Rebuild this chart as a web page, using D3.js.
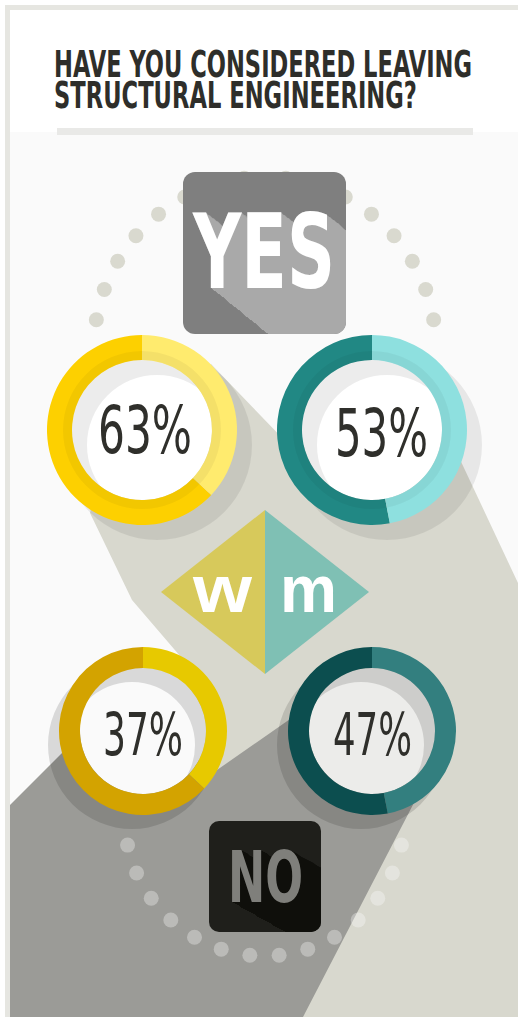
<!DOCTYPE html>
<html><head><meta charset="utf-8">
<script src="https://cdn.jsdelivr.net/npm/d3@7"></script>
<style>html,body{margin:0;padding:0;background:#fff;} svg{display:block;}</style>
</head><body>
<svg id="c" width="518" height="1017"></svg>
<script>
// ---- data ----
const titleLines = ["HAVE YOU CONSIDERED LEAVING", "STRUCTURAL ENGINEERING?"];
const answerLabels = ["YES", "NO"];
const genderLabels = ["w", "m"];
const yesPercent = [63, 53];   // women, men
const noPercent = [37, 47];    // women, men
const topDotAngles = [-80.5, -70, -59.5, -49, -38.5, -28, -17.5, -7, 7, 17.5, 28, 38.5, 49, 59.5, 70, 80.5];
const bottomDotAngles = [-78, -66, -54, -42, -30, -18, -6, 6, 18, 30, 42, 54, 66, 78];

const svg = d3.select("#c");
const defs = svg.append("defs");
const W = 518, H = 1017;
const condensed = "'Liberation Sans Narrow','DejaVu Sans Condensed','Liberation Sans',sans-serif";

// place a text with its left edge at x and baseline at y, squeezed to width w
function fitText(parent, str, x, y, w, attrs) {
  const t = parent.append("text").attr("x", 0).attr("y", 0).text(str);
  Object.entries(attrs).forEach(([k, v]) => t.attr(k, v));
  const len = t.node().getComputedTextLength();
  t.attr("transform", `translate(${x},${y}) scale(${w / len},1)`);
  return t;
}

// ---- frame ----
svg.append("rect").attr("x", 0).attr("y", 0).attr("width", W).attr("height", H).attr("fill", "#fff");
svg.append("rect").attr("x", 5).attr("y", 5).attr("width", W).attr("height", H).attr("fill", "#e6e6e1");
svg.append("rect").attr("x", 10).attr("y", 10).attr("width", W).attr("height", H).attr("fill", "#ffffff");
svg.append("rect").attr("x", 10).attr("y", 132).attr("width", W).attr("height", H).attr("fill", "#fafafa");
svg.append("rect").attr("x", 57).attr("y", 128).attr("width", 416).attr("height", 7).attr("fill", "#e9e9e7");

// ---- title (one text, two lines) ----
const titleWidths = [418, 363];
const title = svg.append("text")
  .attr("font-family", condensed).attr("font-weight", "bold").attr("font-size", 37).attr("fill", "#2e2e2a");
const spans = title.selectAll("tspan").data(titleLines).join("tspan")
  .attr("x", 0).attr("y", (d, i) => i * 31).text(d => d);
const l0 = spans.nodes()[0].getComputedTextLength();
const l1 = spans.nodes()[1].getComputedTextLength();
const ts = titleWidths[0] / l0;
const extra = (titleWidths[1] / ts - l1) / (titleLines[1].length - 1);
spans.filter((d, i) => i === 1).attr("letter-spacing", extra);
title.attr("transform", `translate(54,77) scale(${ts},1)`);

// ---- long shadows (background shapes) ----
const line = d3.line();
const beige = [[142,430],[211,364],[290,446],[449,436],[518,583],[518,1017],[200,1017],[143,760],[198,677],[132,600],[90,513],[105,445]];
svg.append("path").attr("d", line(beige) + "Z").attr("fill", "#d8d8ce");
const grayPoly = [[10,805],[100,715],[143,731],[217,770],[293,717],[372,731],[417,797],[303,1017],[10,1017]];
svg.append("path").attr("d", line(grayPoly) + "Z").attr("fill", "#9b9b97");

// ---- dotted arcs ----
const rad = d => d * Math.PI / 180;
svg.selectAll("circle.tdot").data(topDotAngles).join("circle")
  .attr("class", "tdot")
  .attr("cx", a => 265 + 171 * Math.sin(rad(a)))
  .attr("cy", a => 348 - 171 * Math.cos(rad(a)))
  .attr("r", 7.5).attr("fill", "#d9d9cf");
svg.selectAll("circle.bdot").data(bottomDotAngles).join("circle")
  .attr("class", "bdot")
  .attr("cx", a => 264.5 + 140 * Math.sin(rad(a)))
  .attr("cy", a => 816 + 140 * Math.cos(rad(a)))
  .attr("r", 7.5).attr("fill", "#ffffff").attr("opacity", 0.32);

// ---- donut rings ----
const angle = d3.scaleLinear().domain([0, 100]).range([0, 2 * Math.PI]);
const rings = [
  {v: yesPercent[0], cx: 142, cy: 430, ro: 95, ri: 70, dir: -1, main: "#fdd000", rest: "#ffeb6e", inner: "#ffffff", sx: 15, sy: 15, so: 0.075, band: true, tx: 98, ty: 453, tw: 94, fs: 66},
  {v: yesPercent[1], cx: 372, cy: 430, ro: 95, ri: 70, dir: -1, main: "#218884", rest: "#8ee0df", inner: "#ffffff", sx: 15, sy: 15, so: 0.075, band: true, tx: 335, ty: 456, tw: 93, fs: 66},
  {v: noPercent[0], cx: 143, cy: 731, ro: 84, ri: 63, dir: 1, main: "#e7c900", rest: "#d3a300", inner: "#fafafa", sx: -11, sy: 14, so: 0.13, band: false, tx: 103, ty: 755, tw: 80, fs: 59},
  {v: noPercent[1], cx: 372, cy: 731, ro: 84, ri: 63, dir: 1, main: "#337f7f", rest: "#0c4e4f", inner: "#ececea", sx: -11, sy: 14, so: 0.13, band: false, tx: 333, ty: 755, tw: 79, fs: 59}
];
const arc = d3.arc();
rings.forEach(r => {
  const g = svg.append("g");
  g.append("circle").attr("cx", r.cx).attr("cy", r.cy).attr("r", r.ri).attr("fill", r.inner);
  g.append("path").attr("transform", `translate(${r.cx + r.sx},${r.cy + r.sy})`)
    .attr("d", arc({innerRadius: r.ri, outerRadius: r.ro, startAngle: 0, endAngle: 2 * Math.PI}))
    .attr("fill", "#000").attr("opacity", r.so);
  const a = angle(r.v);
  const segs = r.dir < 0
    ? [{s: -a, e: 0, c: r.main}, {s: 0, e: 2 * Math.PI - a, c: r.rest}]
    : [{s: 0, e: a, c: r.main}, {s: a, e: 2 * Math.PI, c: r.rest}];
  g.selectAll("path.seg").data(segs).join("path").attr("class", "seg")
    .attr("transform", `translate(${r.cx},${r.cy})`)
    .attr("d", d => arc({innerRadius: r.ri, outerRadius: r.ro, startAngle: d.s, endAngle: d.e}))
    .attr("fill", d => d.c);
  if (r.band) {
    g.append("path").attr("transform", `translate(${r.cx},${r.cy})`)
      .attr("d", arc({innerRadius: r.ri, outerRadius: r.ri + 9, startAngle: 0, endAngle: 2 * Math.PI}))
      .attr("fill", "#000").attr("opacity", 0.045);
  }
  fitText(g, r.v + "%", r.tx, r.ty, r.tw, {"font-family": condensed, "font-size": r.fs, "fill": "#2f2f2b"});
});

// ---- diamond ----
const dia = svg.append("g");
dia.append("path").attr("d", line([[161,592],[265,510],[265,674]]) + "Z").attr("fill", "#d7c95b");
dia.append("path").attr("d", line([[265,510],[369,592],[265,674]]) + "Z").attr("fill", "#7fc0b4");
const gSpecs = [{x: 193, w: 59}, {x: 280, w: 57}];
genderLabels.forEach((s, i) => fitText(dia, s, gSpecs[i].x, 612, gSpecs[i].w,
  {"font-family": "'Liberation Sans','Arial',sans-serif", "font-weight": "bold", "font-size": 66, "fill": "#ffffff"}));

// ---- answer boxes with long text shadow ----
const boxes = [
  {label: answerLabels[0], x: 183, y: 172, w: 163, h: 162, rx: 12, fill: "#7f7f7f", shadow: "#a9a9a9", txt: "#ffffff", tx: 193, ty: 288, tw: 142, fs: 104, k: 0.8},
  {label: answerLabels[1], x: 209, y: 821, w: 112, h: 111, rx: 10, fill: "#1f1f1b", shadow: "#0f0f0b", txt: "#7f7f7b", tx: 228, ty: 902, tw: 75, fs: 72, k: 0.57}
];
boxes.forEach((b, bi) => {
  const cid = "clip" + bi, fid = "ls" + bi;
  defs.append("clipPath").attr("id", cid).append("rect")
    .attr("x", b.x).attr("y", b.y).attr("width", b.w).attr("height", b.h).attr("rx", b.rx);
  const f = defs.append("filter").attr("id", fid).attr("filterUnits", "userSpaceOnUse")
    .attr("primitiveUnits", "userSpaceOnUse")
    .attr("x", b.x).attr("y", b.y).attr("width", b.w).attr("height", b.h)
    .attr("color-interpolation-filters", "sRGB");
  let prev = "SourceAlpha";
  for (let k = 0; k < 8; k++) {
    const d = Math.pow(2, k);
    f.append("feOffset").attr("in", prev).attr("dx", d).attr("dy", d * b.k).attr("result", "o" + k);
    const m = f.append("feMerge").attr("result", "m" + k);
    m.append("feMergeNode").attr("in", prev);
    m.append("feMergeNode").attr("in", "o" + k);
    prev = "m" + k;
  }
  f.append("feFlood").attr("flood-color", b.shadow).attr("result", "fl");
  f.append("feComposite").attr("in", "fl").attr("in2", prev).attr("operator", "in").attr("result", "sh");
  const fm = f.append("feMerge");
  fm.append("feMergeNode").attr("in", "sh");
  fm.append("feMergeNode").attr("in", "SourceGraphic");

  const g = svg.append("g");
  g.append("rect").attr("x", b.x).attr("y", b.y).attr("width", b.w).attr("height", b.h).attr("rx", b.rx).attr("fill", b.fill);
  const inner = g.append("g").attr("clip-path", `url(#${cid})`).append("g").attr("filter", `url(#${fid})`);
  fitText(inner, b.label, b.tx, b.ty, b.tw,
    {"font-family": condensed, "font-weight": "bold", "font-size": b.fs, "fill": b.txt});
});
</script>
</body></html>
